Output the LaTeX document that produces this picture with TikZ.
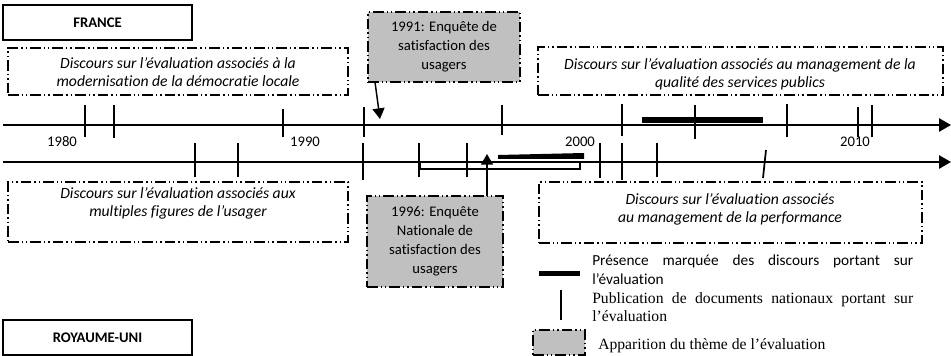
\documentclass[tikz,border=0pt]{standalone}
\usepackage{fontspec}
\setmainfont{Carlito}[Ligatures=NoCommon]
\newfontfamily\tnr{Liberation Serif}
\usetikzlibrary{arrows.meta}
\definecolor{boxgray}{HTML}{C0C0C0}
\tikzset{
  ddash/.style={draw, line width=1pt, dash pattern=on 8pt off 2.2pt on 1.1pt off 2.2pt on 1.1pt off 2.2pt},
  discbox/.style={ddash, inner sep=0pt},
  grbox/.style={ddash, fill=boxgray, inner sep=0pt, align=center, font=\fontsize{11}{14.2}\selectfont},
  country/.style={draw, line width=0.8pt, inner sep=0pt, font=\bfseries\fontsize{11}{12}\selectfont},
  disctext/.style={align=center, inner sep=0pt, font=\itshape\fontsize{11.75}{13.6}\selectfont},
  year/.style={inner sep=0pt, font=\fontsize{11}{12}\selectfont},
  axis/.style={line width=1.3pt, -{Triangle[length=9pt,width=10pt]}},
  tick/.style={line width=1.3pt},
  ptr/.style={line width=1.1pt, -{Triangle[length=8pt,width=9pt]}},
  legtext/.style={inner sep=0pt, align=justify, text width=240.75pt}
}
\begin{document}
\begin{tikzpicture}[x=0.75pt,y=-0.75pt]
\useasboundingbox (0,0) rectangle (951,356);

% country boxes
\node[country, minimum width=141.75pt, minimum height=26.25pt] (fr) at (97.5,22.5) {FRANCE};
\node[country, minimum width=141.75pt, minimum height=26.25pt] (uk) at (97.5,337.5) {ROYAUME-UNI};

% discourse boxes
\node[discbox, minimum width=255pt, minimum height=35.25pt] (fr1) at (178,71.5) {};
\node[disctext] (fr1t) at (178,72) {Discours sur l’évaluation associés à la\\modernisation de la démocratie locale};
\node[discbox, minimum width=303.75pt, minimum height=36pt] (fr2) at (740.5,71) {};
\node[disctext] (fr2t) at (740,74) {Discours sur l’évaluation associés au management de la\\qualité des services publics};
\node[discbox, minimum width=255pt, minimum height=45pt] (uk1) at (178,212) {};
\node[disctext] (uk1t) at (178,203.5) {Discours sur l’évaluation associés aux\\multiples figures de l’usager};
\node[discbox, minimum width=287.25pt, minimum height=45.75pt] (uk2) at (730.5,212.5) {};
\node[disctext] (uk2t) at (730,209) {Discours sur l’évaluation associés\\au management de la performance};

% grey event boxes
\node[grbox, minimum width=114pt, minimum height=52.5pt] (b91) at (444,47) {1991: Enquête de\\satisfaction des\\usagers};
\node[grbox, minimum width=102pt, minimum height=68.25pt] (b96) at (435,241.5) {1996: Enquête\\Nationale de\\satisfaction des\\usagers};

% axes
\coordinate (frS) at (3,125);
\coordinate (frE) at (951,125);
\coordinate (ukS) at (3,162);
\coordinate (ukE) at (951,162);
\draw[axis] (frS) -- (frE);
\draw[axis] (ukS) -- (ukE);

% bars
\fill (642,117) rectangle (763,123);
\fill (498,155) -- (584,153) -- (584,159) -- (498,159) -- cycle;
\draw[line width=1.1pt] (420,162) rectangle (580,169);

% France ticks
\foreach \x/\a/\b in {85/105/137,114/105/138,283/109/137,364/107/137,502/105/135,622/104/136,695/105/139,787/104/137,858/107/137,872/105/137}
  \draw[tick] (\x,\a) -- (\x,\b);
% UK ticks
\foreach \x/\a/\b in {195/143/177,238/143/177,363/143/180,419/143/177,467/143/177,600/143/178,622/143/180,657/143/177}
  \draw[tick] (\x,\a) -- (\x,\b);
\draw[tick] (766,150) -- (763,178);

% years
\node[year] (y80) at (62,142) {1980};
\node[year] (y90) at (305,142) {1990};
\node[year] (y00) at (580,142) {2000};
\node[year] (y10) at (855,142) {2010};

% pointers
\coordinate (p91s) at (375,82);
\coordinate (p91e) at (380,119);
\coordinate (p96s) at (487,196);
\coordinate (p96e) at (487,154);
\draw[ptr] (p91s) -- (p91e);
\draw[ptr] (p96s) -- (p96e);

% legend
\fill (539,271) rectangle (580,276);
\draw[line width=1.3pt] (561,290) -- (561,320);
\node[ddash, fill=boxgray, inner sep=0pt, minimum width=39pt, minimum height=18.75pt] (lgb) at (559,342.5) {};
\node[legtext, anchor=north west, font=\fontsize{11.5}{14.2}\selectfont] (lg1) at (592,255) {Présence marquée des discours portant sur\linebreak l’évaluation};
\node[legtext, anchor=north west, font=\tnr\fontsize{11.75}{13.4}\selectfont] (lg2) at (592,292) {Publication de documents nationaux portant sur\linebreak l’évaluation};
\node[inner sep=0pt, anchor=west, font=\tnr\fontsize{11.75}{13.4}\selectfont] (lg3) at (598,346) {Apparition du thème de l’évaluation};
\end{tikzpicture}
\end{document}
